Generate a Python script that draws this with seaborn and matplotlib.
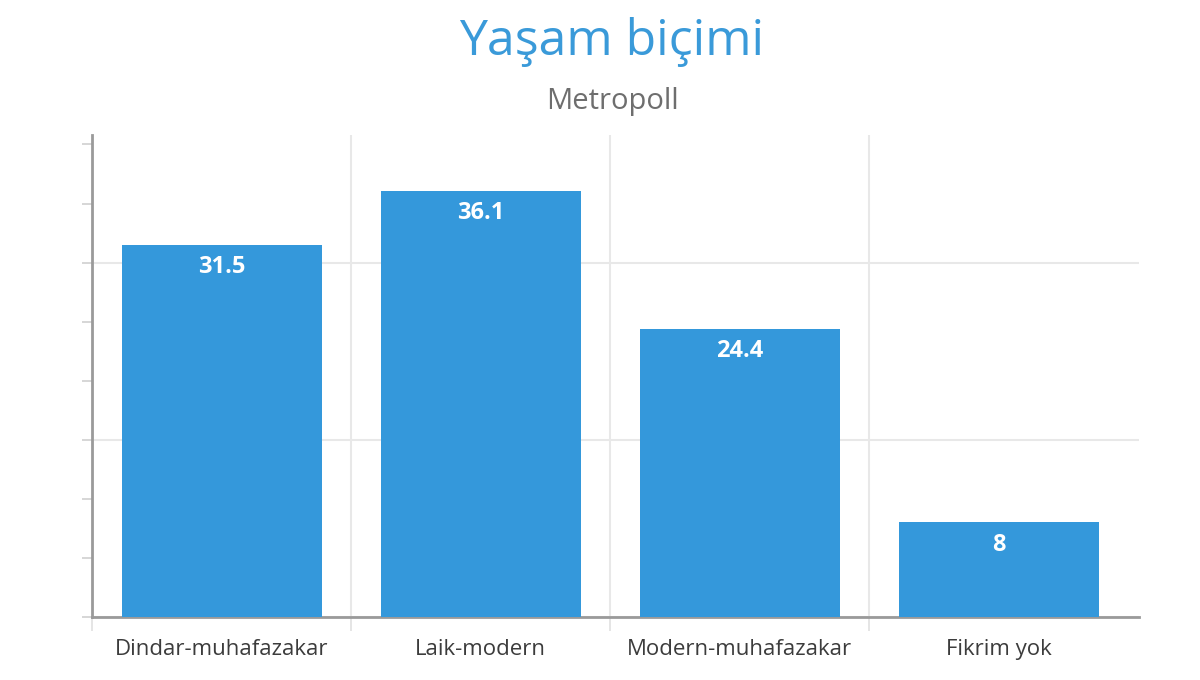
import matplotlib
matplotlib.use("Agg")
import matplotlib.pyplot as plt
import seaborn as sns
import pandas as pd

# ---- data ----
categories = ["Dindar-muhafazakar", "Laik-modern", "Modern-muhafazakar", "Fikrim yok"]
values = [31.5, 36.1, 24.4, 8]
value_labels = ["31.5", "36.1", "24.4", "8"]

df = pd.DataFrame({"category": categories, "value": values})

BAR_COLOR = "#3498db"
TITLE_COLOR = "#3a9ad9"
AXIS_COLOR = "#9a9a9a"
GRID_COLOR = "#e8e8e8"

sns.set_theme(style="white")
plt.rcParams["font.family"] = ["Open Sans", "DejaVu Sans"]

fig = plt.figure(figsize=(12, 6.8), dpi=100)
ax = fig.add_axes([92 / 1200, 63 / 680, 1047 / 1200, 482 / 680])

sns.barplot(data=df, x="category", y="value", color=BAR_COLOR, saturation=1,
            width=0.772, linewidth=0, ax=ax, zorder=3)

ax.set_xlim(-0.5, 3.54)
ax.set_ylim(0, 40.8)

# y ticks: every 5, gridlines every 15
ax.set_yticks([0, 15, 30])
ax.set_yticks([5, 10, 20, 25, 35, 40], minor=True)
ax.set_yticklabels([])
ax.tick_params(axis="y", which="both", left=True, length=7, width=1.2,
               color="#d0d0d0", direction="out")
ax.yaxis.grid(True, which="major", color=GRID_COLOR, linewidth=1.5, zorder=0)

# x: vertical separators between categories
ax.set_xticks([-0.5, 0.5, 1.5, 2.5], minor=True)
ax.xaxis.grid(True, which="minor", color=GRID_COLOR, linewidth=1.5, zorder=0)
ax.tick_params(axis="x", which="minor", bottom=True, length=10, width=1.2,
               color="#e0e0e0", direction="out")
ax.tick_params(axis="x", which="major", bottom=False, pad=10,
               labelsize=16, labelcolor="#3c3c3c")
ax.set_axisbelow(True)

for side in ["top", "right"]:
    ax.spines[side].set_visible(False)
for side in ["left", "bottom"]:
    ax.spines[side].set_color(AXIS_COLOR)
    ax.spines[side].set_linewidth(2)

ax.set_xlabel("")
ax.set_ylabel("")

# value labels inside the bars
for i, (v, lab) in enumerate(zip(values, value_labels)):
    ax.annotate(lab, xy=(i, v), xytext=(0, -16), textcoords="offset points",
                ha="center", va="center", color="white", fontsize=17,
                fontweight="bold", zorder=4)

fig.text(0.5096, 1 - 55 / 680, "Yaşam biçimi", ha="center", va="baseline",
         fontsize=36, color=TITLE_COLOR)
fig.text(0.5104, 1 - 109 / 680, "Metropoll", ha="center", va="baseline",
         fontsize=21, color="#6e6e6e")

fig.savefig("out.png", dpi=100)
